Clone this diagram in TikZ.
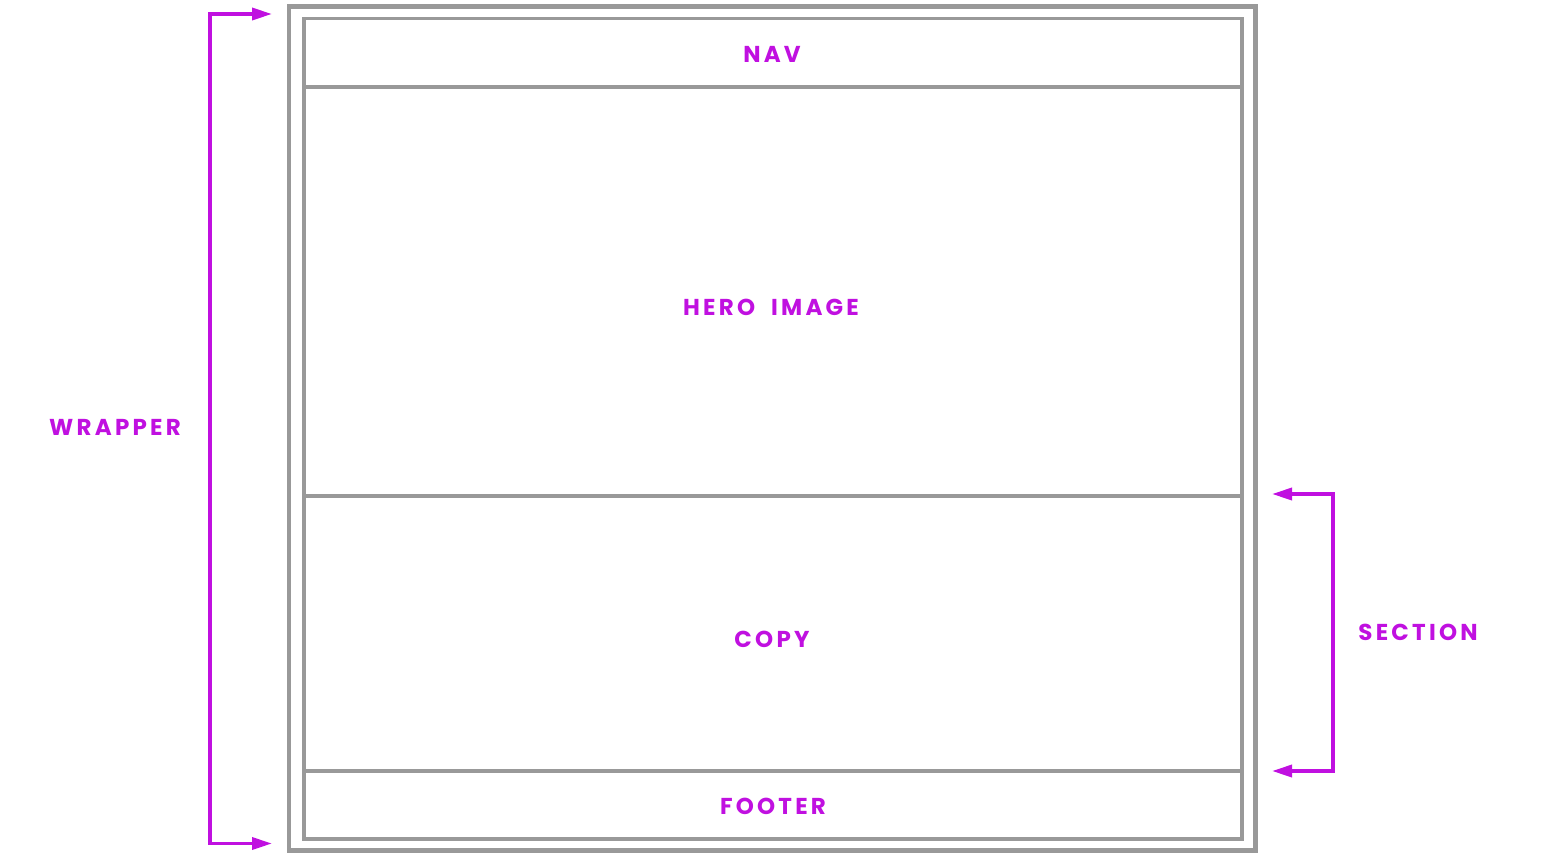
\documentclass[tikz,border=0pt]{standalone}
\usepackage{fontspec}
\newfontfamily\labelfont[LetterSpace=14]{Poppins}
\usepackage{tikz}
\usetikzlibrary{arrows.meta}
\usetikzlibrary{positioning}

\definecolor{wfgray}{RGB}{153,153,153}
\definecolor{wfpink}{RGB}{192,16,224}

\tikzset{
  frame/.style={draw=wfgray, line width=4.5pt},
  part/.style={draw=wfgray, line width=3.5pt, minimum width=938pt, inner sep=0pt, outer sep=0pt},
  lbl/.style={text=wfpink, font=\labelfont\bfseries\fontsize{23}{26}\selectfont, inner sep=0pt},
  pointer/.style={draw=wfpink, line width=3.5pt, {Triangle[length=20pt,width=12pt]}-{Triangle[length=20pt,width=12pt]}}
}

\begin{document}
\begin{tikzpicture}[x=1pt,y=-1pt]
\useasboundingbox (0,0) rectangle (1541,860);

% outer wrapper
\draw[frame] (289,6.5) rectangle (1255.5,850.5);

% the four parts, top to bottom
\node[part, minimum height=68.5pt, anchor=north] (nav) at (773,18.5) {};
\node[part, minimum height=409pt, below=0pt of nav] (hero) {};
\node[part, minimum height=275pt, below=0pt of hero] (copy) {};
\node[part, minimum height=68pt, below=0pt of copy] (footer) {};

\node[lbl] (navtxt) at (772,54) {NAV};
\node[lbl] (herotxt) at (771,307) {HERO\hspace{0.7em}IMAGE};
\node[lbl] (copytxt) at (772,639) {COPY};
\node[lbl] (foottxt) at (773,806) {FOOTER};

% brackets
\coordinate (wtop) at (272,14);
\coordinate (wbot) at (272,843.5);
\draw[pointer] (wtop) -- ++(-62,0) |- (wbot);
\node[lbl] (wraptxt) at (115,427) {WRAPPER};

\coordinate (stop) at (1272,494);
\coordinate (sbot) at (1272,771);
\draw[pointer] (stop) -- ++(61,0) |- (sbot);
\node[lbl] (secttxt) at (1418,632) {SECTION};
\end{tikzpicture}
\end{document}
